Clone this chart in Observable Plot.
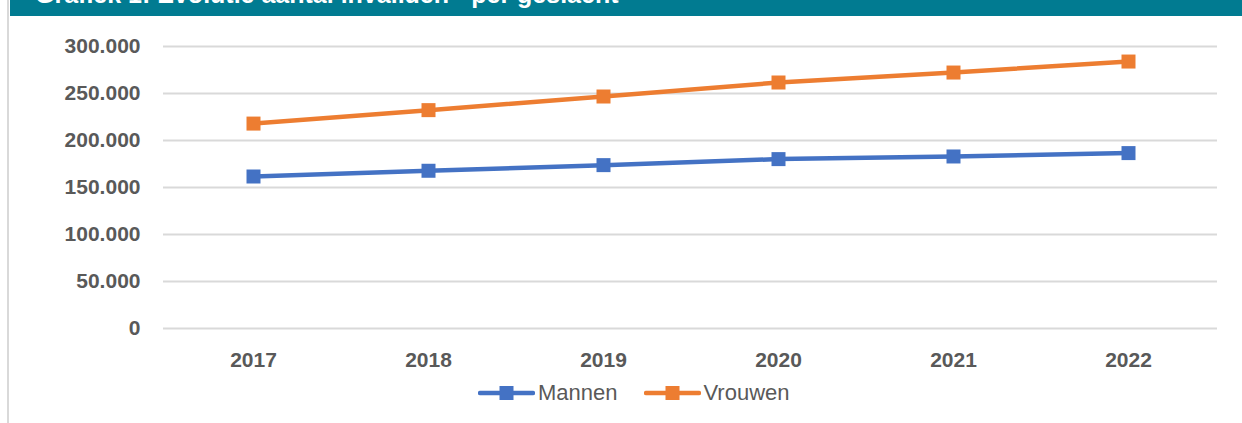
<!DOCTYPE html>
<html>
<head>
<meta charset="utf-8">
<script src="https://cdn.jsdelivr.net/npm/d3@7"></script>
<script src="https://cdn.jsdelivr.net/npm/@observablehq/plot@0.6"></script>
<style>
  html, body { margin: 0; padding: 0; background: #fff; }
  #wrap { position: relative; width: 1242px; height: 423px; overflow: hidden; background: #fff; }
  #header { position: absolute; left: 10px; top: 0; width: 1232px; height: 16px; background: #017B91; overflow: hidden; }
  #title { position: absolute; left: 25px; top: -18px; font: bold 25px "Liberation Sans", Arial, sans-serif; color: #fff; white-space: nowrap; line-height: 25px; }
  #border { position: absolute; left: 7px; top: 0; width: 2px; height: 423px; background: #d9d9d9; }
  #chart { position: absolute; left: 0; top: 0; }
  #legend { position: absolute; left: 478px; top: 380px; display: flex; align-items: center; font: 22px "Liberation Sans", Arial, sans-serif; color: #595959; }
  .item { display: flex; align-items: center; margin-right: 26px; }
  .item svg { margin-right: 3px; }
</style>
</head>
<body>
<div id="wrap">
  <div id="border"></div>
  <div id="header"><div id="title">Grafiek 1: Evolutie aantal invaliden - per geslacht</div></div>
  <div id="chart"></div>
  <div id="legend"></div>
</div>
<script>
const years = ["2017", "2018", "2019", "2020", "2021", "2022"];
const mannen = [161700, 167800, 173800, 180200, 183000, 186600];
const vrouwen = [218000, 232300, 246800, 261700, 272300, 284000];
const seriesNames = ["Mannen", "Vrouwen"];
const seriesColors = ["#4472C4", "#ED7D31"];
const yTicks = [0, 50000, 100000, 150000, 200000, 250000, 300000];

const rows = [];
years.forEach((y, i) => {
  rows.push({year: y, value: mannen[i], series: seriesNames[0]});
  rows.push({year: y, value: vrouwen[i], series: seriesNames[1]});
});

const fmt = d3.formatLocale({decimal: ",", thousands: ".", grouping: [3]}).format(",d");

const chart = Plot.plot({
  width: 1242,
  height: 380,
  marginLeft: 163,
  marginRight: 25,
  marginTop: 46,
  marginBottom: 52,
  style: {fontFamily: "'Liberation Sans', Arial, sans-serif", background: "transparent", color: "#595959"},
  x: {type: "point", domain: years, padding: 0.5, label: null},
  y: {domain: [0, 300000], label: null},
  color: {domain: seriesNames, range: seriesColors},
  marks: [
    Plot.ruleY(yTicks, {stroke: "#d9d9d9", strokeWidth: 2}),
    Plot.axisY(yTicks, {tickSize: 0, tickPadding: 23, tickFormat: fmt, fontSize: 21, fontWeight: "bold", fill: "#595959", label: null}),
    Plot.axisX({tickSize: 0, tickPadding: 24, fontSize: 21, fontWeight: "bold", fill: "#595959", label: null}),
    Plot.line(rows, {x: "year", y: "value", z: "series", stroke: "series", strokeWidth: 4.5}),
    Plot.dot(rows, {x: "year", y: "value", fill: "series", symbol: "square", r: 7.9, stroke: null})
  ]
});
document.getElementById("chart").appendChild(chart);

const legend = document.getElementById("legend");
seriesNames.forEach((name, i) => {
  const item = document.createElement("div");
  item.className = "item";
  const c = seriesColors[i];
  item.innerHTML = `<svg width="57" height="16"><line x1="2" x2="55" y1="8" y2="8" stroke="${c}" stroke-width="4.5" stroke-linecap="round"/><rect x="21.5" y="1" width="14" height="14" fill="${c}"/></svg><span>${name}</span>`;
  legend.appendChild(item);
});
</script>
</body>
</html>
